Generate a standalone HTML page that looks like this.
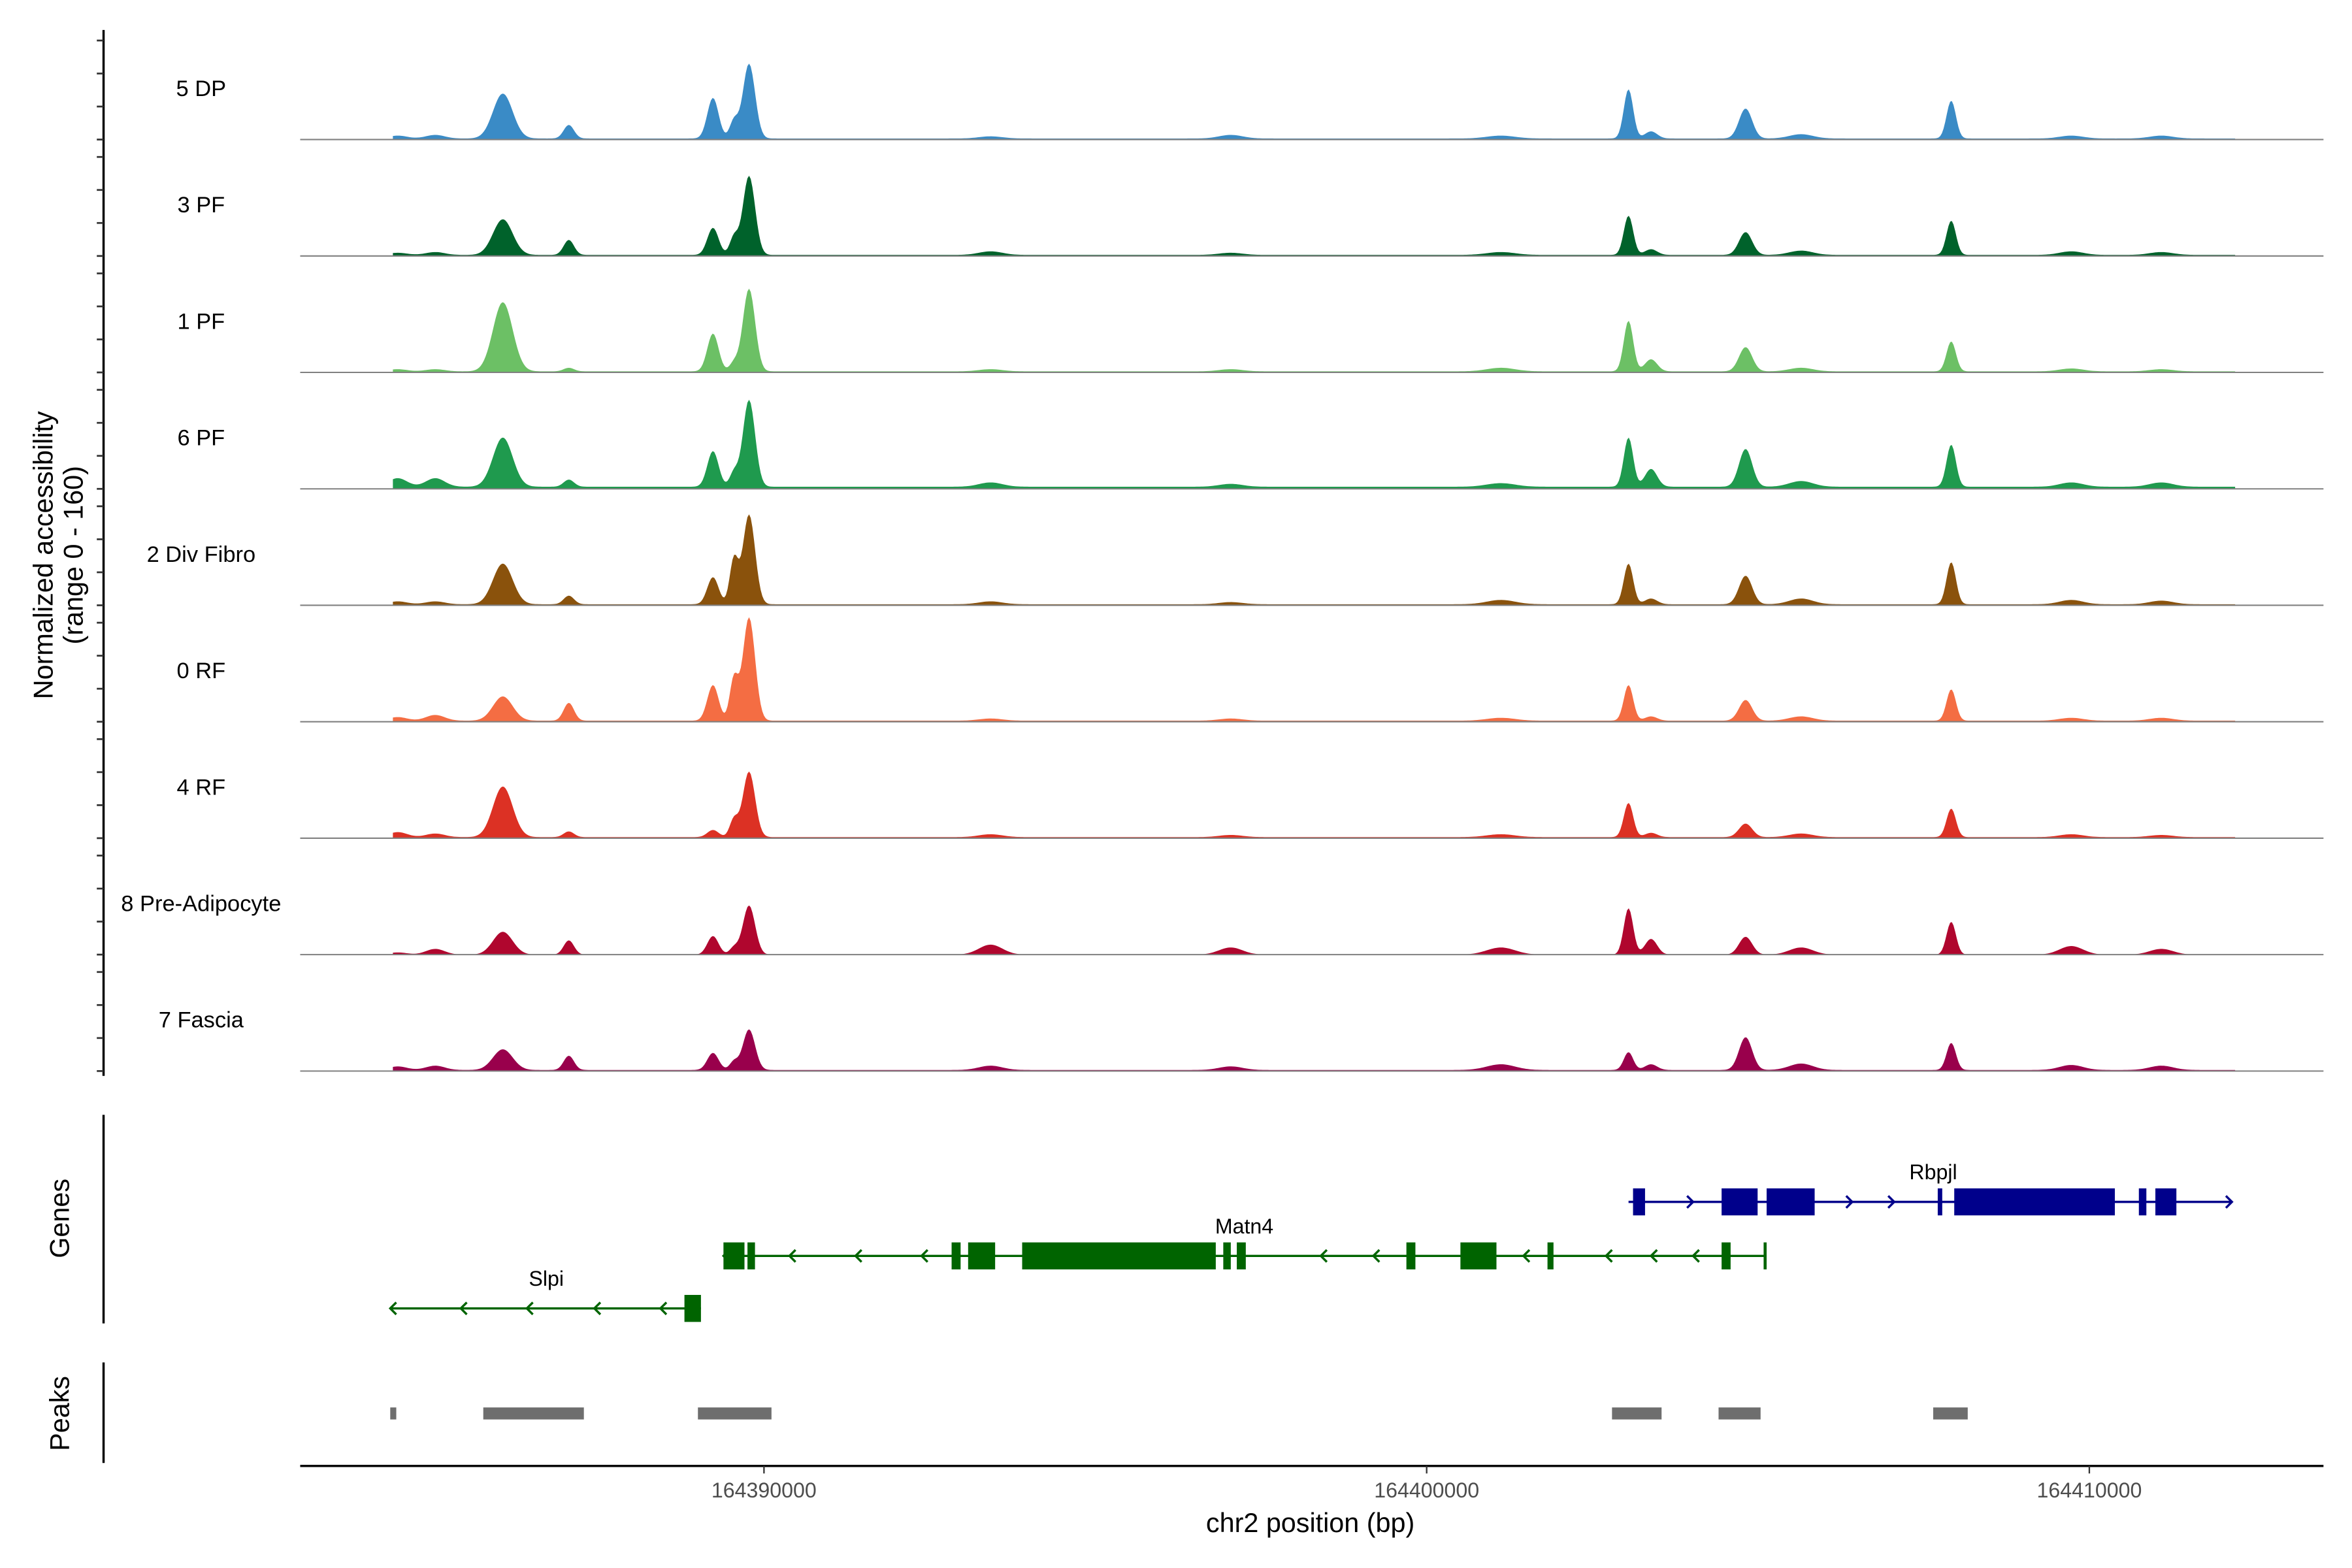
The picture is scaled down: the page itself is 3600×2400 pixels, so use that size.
<!DOCTYPE html>
<html><head><meta charset="utf-8"><style>html,body{margin:0;padding:0;background:#fff}svg{display:block}text{font-family:"Liberation Sans",Arial,sans-serif}</style></head>
<body>
<svg id="chart" xmlns="http://www.w3.org/2000/svg" width="3600" height="2400" viewBox="0 0 1567 1045" preserveAspectRatio="none">
<g id="tracks"></g>
<g id="yaxis"></g>
<text transform="translate(35,370) rotate(-90)" text-anchor="middle" font-size="18" fill="#000">Normalized accessibility</text>
<text transform="translate(55,370) rotate(-90)" text-anchor="middle" font-size="18" fill="#000">(range 0 - 160)</text>
<line x1="69" y1="743" x2="69" y2="882" stroke="#000" stroke-width="1.5"/>
<text transform="translate(46,812) rotate(-90)" text-anchor="middle" font-size="18">Genes</text>
<g id="genes"></g>
<line x1="69" y1="908" x2="69" y2="975" stroke="#000" stroke-width="1.5"/>
<text transform="translate(46,942) rotate(-90)" text-anchor="middle" font-size="18">Peaks</text>
<g id="peaks"></g>
<line x1="200" y1="977" x2="1548" y2="977" stroke="#000" stroke-width="1.5"/>
<g id="xaxis"></g>
<text x="873" y="1021" text-anchor="middle" font-size="18">chr2 position (bp)</text>
</svg>
<script>
const NS="http://www.w3.org/2000/svg";
const trackNames=["5 DP","3 PF","1 PF","6 PF","2 Div Fibro","0 RF","4 RF","8 Pre-Adipocyte","7 Fascia"];
const trackColors=["#3a8bc6","#00622b","#6cc065","#1f9a4e","#8a520c","#f46d43","#dc3124","#b0062e","#99004c"];
const peakPositions=[164386059,164387055,164389230,164389547,164389774,164403046,164403386,164404813,164407916,164384473,164385040,164393420,164397044,164401121,164405651,164409728,164411087];
const peakWidthsBp=[210,110,120,90,130,100,130,140,100,200,200,250,250,300,250,250,250];
const vals5DP=[63,19,57,25,105,69,10,42,53,4,5,3,5,4,6,4,4];
const vals3PF=[50,21,38,25,111,55,8,32,48,3,4,5,3,4,6,5,4];
const vals1PF=[97,5,53,12,116,71,17,34,42,3,3,3,3,5,5,4,3];
const vals6PF=[69,10,50,20,122,69,25,53,59,12,12,6,4,5,8,6,6];
const vals2Div=[57,12,38,63,126,57,8,40,59,4,4,4,3,6,8,6,5];
const vals0RF=[34,25,50,59,145,50,6,29,44,5,8,3,3,4,6,4,4];
const vals4RF=[71,8,10,25,92,48,6,19,40,7,5,4,3,4,5,4,3];
const valsPreAd=[32,20,26,10,69,65,22,25,46,3,8,14,10,10,10,12,8];
const valsFascia=[29,20,24,12,57,25,8,46,38,5,6,6,5,8,9,7,6];
const trackValues=[vals5DP,vals3PF,vals1PF,vals6PF,vals2Div,vals0RF,vals4RF,valsPreAd,valsFascia];
const backgroundLevel=[1.5,1.5,1.5,3,1.5,1.5,1.5,0,1.5];
const regionStart=164384400, regionEnd=164412200;
const xTicks=[164390000,164400000,164410000];
const peakStarts=[164384360,164385764,164389003,164402797,164404405,164407644];
const peakEnds=[164384451,164387282,164390113,164403545,164405039,164408165];

function xs(p){return 509+(p-164390000)*0.04415;}
const baseline0=93, trackStep=77.6, yPerUnit=0.475;
function ys(v,i){return baseline0+i*trackStep-v*yPerUnit;}

const tracks=document.getElementById('tracks');
trackNames.forEach((nm,i)=>{
  const vals=trackValues[i];
  let d="M"+xs(regionStart)+","+ys(0,i);
  for(let p=regionStart;p<=regionEnd;p+=25){
    let v=backgroundLevel[i];
    for(let k=0;k<peakPositions.length;k++){
      const z=(p-peakPositions[k])/peakWidthsBp[k];
      v+=vals[k]*Math.exp(-z*z);
    }
    d+="L"+xs(p).toFixed(2)+","+ys(Math.min(v,160),i).toFixed(2);
  }
  d+="L"+xs(regionEnd)+","+ys(0,i)+"Z";
  const path=document.createElementNS(NS,'path');
  path.setAttribute('d',d);path.setAttribute('fill',trackColors[i]);
  
  
  tracks.appendChild(path);
  const bl=document.createElementNS(NS,'line');
  bl.setAttribute('x1',200);bl.setAttribute('x2',1548);bl.setAttribute('y1',ys(0,i));bl.setAttribute('y2',ys(0,i));
  bl.setAttribute('stroke','#808080');bl.setAttribute('stroke-width','0.9');
  
  
  tracks.appendChild(bl);
  const t=document.createElementNS(NS,'text');
  t.setAttribute('x',134);t.setAttribute('y',ys(0,i)-29);t.setAttribute('text-anchor','middle');t.setAttribute('font-size','15');
  t.textContent=nm;
  
  
  tracks.appendChild(t);
});
const yaxis=document.getElementById('yaxis');
const ya=document.createElementNS(NS,'line');
ya.setAttribute('x1',69);ya.setAttribute('x2',69);ya.setAttribute('y1',20);ya.setAttribute('y2',717);ya.setAttribute('stroke','#000');ya.setAttribute('stroke-width','1.5');


yaxis.appendChild(ya);
for(let i=0;i<9;i++){for(let k=0;k<4;k++){
  const y=ys(0,i)-k*22; if(y<20)continue;
  const tk=document.createElementNS(NS,'line');
  tk.setAttribute('x1',64.5);tk.setAttribute('x2',69);tk.setAttribute('y1',y);tk.setAttribute('y2',y);tk.setAttribute('stroke','#333');tk.setAttribute('stroke-width','1.2');
  
  
  yaxis.appendChild(tk);
}}
const xaxis=document.getElementById('xaxis');
xTicks.forEach(p=>{
  const tk=document.createElementNS(NS,'line');
  tk.setAttribute('x1',xs(p));tk.setAttribute('x2',xs(p));tk.setAttribute('y1',977);tk.setAttribute('y2',982);tk.setAttribute('stroke','#333');
  
  
  xaxis.appendChild(tk);
  const t=document.createElementNS(NS,'text');
  t.setAttribute('x',xs(p));t.setAttribute('y',998);t.setAttribute('text-anchor','middle');t.setAttribute('font-size','14');t.setAttribute('fill','#4d4d4d');
  t.textContent=p;
  
  
  xaxis.appendChild(t);
});
const peaksG=document.getElementById('peaks');
peakStarts.forEach((s,i)=>{
  const r=document.createElementNS(NS,'rect');
  r.setAttribute('x',xs(s));r.setAttribute('width',xs(peakEnds[i])-xs(s));r.setAttribute('y',938);r.setAttribute('height',8);r.setAttribute('fill','#6e6e6e');
  
  
  peaksG.appendChild(r);
});
function bp(x){return 164390000+(x-509)/0.04415;}
const genes=[
 {name:"Rbpjl",color:"#00008b",y:801,dir:1,start:bp(1085),end:bp(1487),labelX:1288,
  exons:[[1088,1096],[1147,1171],[1177,1209],[1291,1294],[1302,1409],[1425,1430],[1436,1450]],arrows:[1128,1196,1234,1262]},
 {name:"Matn4",color:"#006400",y:837,dir:-1,start:bp(482),end:bp(1177),labelX:829,
  exons:[[482,496],[498,503],[634,640],[645,663],[681,810],[815,820],[824,830],[937,943],[973,997],[1031,1035],[1147,1153]],arrows:[526,570,614,880,915,1015,1070,1100,1128]},
 {name:"Slpi",color:"#006400",y:872,dir:-1,start:bp(260),end:bp(467),labelX:364,
  exons:[[456,467]],arrows:[307,351,396,440]}
];
const gG=document.getElementById('genes');
genes.forEach(g=>{
  const ln=document.createElementNS(NS,'line');
  ln.setAttribute('x1',xs(g.start));ln.setAttribute('x2',xs(g.end));ln.setAttribute('y1',g.y);ln.setAttribute('y2',g.y);ln.setAttribute('stroke',g.color);ln.setAttribute('stroke-width','1.5');
  
  
  gG.appendChild(ln);
  const ends=g.dir>0?[xs(g.end)]:[xs(g.start)];
  g.arrows.concat(ends).forEach(ax=>{
    const a=document.createElementNS(NS,'path');
    const dx=4*g.dir;
    a.setAttribute('d',`M${ax-dx},${g.y-4}L${ax},${g.y}L${ax-dx},${g.y+4}`);
    a.setAttribute('fill','none');a.setAttribute('stroke',g.color);a.setAttribute('stroke-width','1.5');
    
    
    gG.appendChild(a);
  });
  g.exons.forEach(e=>{
    const r=document.createElementNS(NS,'rect');
    r.setAttribute('x',e[0]);r.setAttribute('width',e[1]-e[0]);r.setAttribute('y',g.y-9);r.setAttribute('height',18);r.setAttribute('fill',g.color);
    
    
    gG.appendChild(r);
  });
  const t=document.createElementNS(NS,'text');
  t.setAttribute('x',g.labelX);t.setAttribute('y',g.y-15);t.setAttribute('text-anchor','middle');t.setAttribute('font-size','14');
  t.textContent=g.name;
  
  
  gG.appendChild(t);
});
const mt=document.createElementNS(NS,'line');
mt.setAttribute('x1',1176);mt.setAttribute('x2',1176);mt.setAttribute('y1',828);mt.setAttribute('y2',846);mt.setAttribute('stroke','#006400');mt.setAttribute('stroke-width','2');


gG.appendChild(mt);
</script>
</body></html>
